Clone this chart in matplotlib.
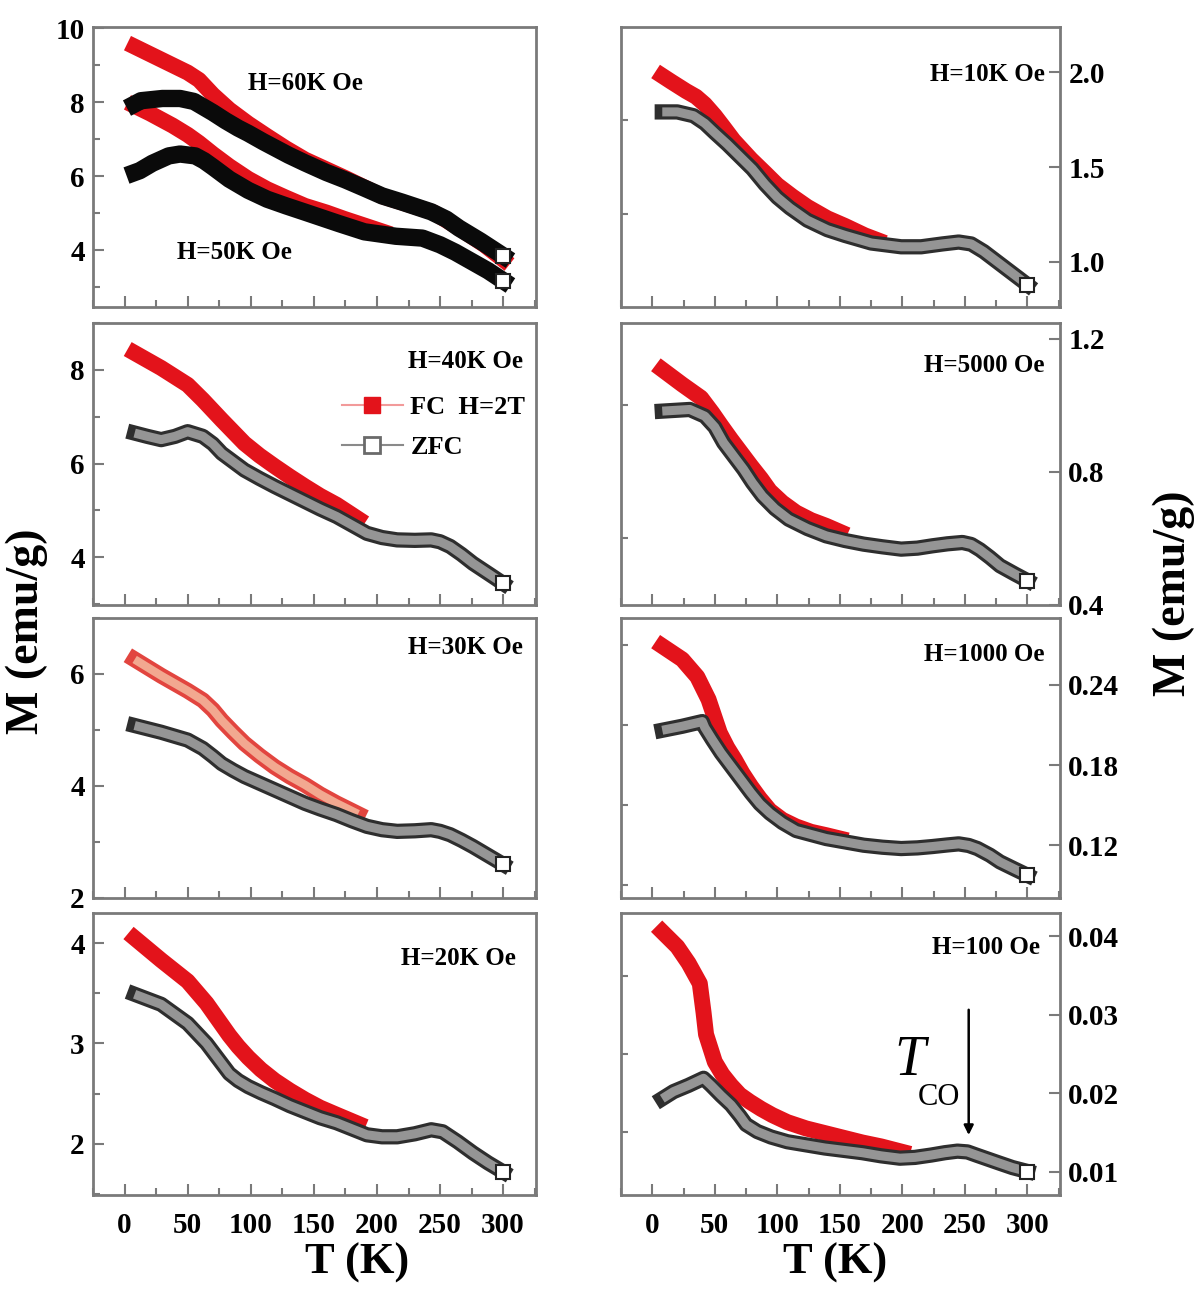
import matplotlib
matplotlib.use("Agg")
import matplotlib.pyplot as plt
from matplotlib.lines import Line2D
from matplotlib.ticker import MultipleLocator

plt.rcParams['font.family'] = ['Liberation Serif', 'DejaVu Serif']
plt.rcParams['font.weight'] = 'bold'

# ---------------- data ----------------
# H = 60K Oe / 50K Oe
T60_fc = [8, 20, 38, 50, 59, 70, 83, 98, 113, 128, 143, 175, 205, 245, 265, 285, 300]
M60_fc = [9.5, 9.3, 9.0, 8.8, 8.6, 8.2, 7.8, 7.42, 7.08, 6.75, 6.45, 5.95, 5.45, 5.02, 4.6, 4.15, 3.75]
T60_zfc = [8, 13, 30, 44, 55, 62, 70, 80, 90, 98, 110, 120, 130, 143, 160, 175, 190, 204, 220, 243, 255, 265, 282, 300]
M60_zfc = [7.95, 8.04, 8.1, 8.1, 8.02, 7.88, 7.72, 7.5, 7.3, 7.16, 6.93, 6.75, 6.57, 6.36, 6.1, 5.9, 5.68, 5.47, 5.3, 5.04, 4.84, 4.6, 4.25, 3.85]
T50_fc = [8, 20, 38, 50, 59, 70, 83, 98, 113, 128, 143, 160, 174, 190, 205]
M50_fc = [7.9, 7.7, 7.37, 7.12, 6.9, 6.6, 6.27, 5.93, 5.65, 5.42, 5.2, 5.02, 4.85, 4.67, 4.5]
T50_zfc = [8, 12, 22, 35, 44, 56, 63, 70, 83, 98, 113, 128, 143, 170, 190, 215, 236, 250, 262, 275, 288, 300]
M50_zfc = [6.1, 6.15, 6.35, 6.55, 6.6, 6.55, 6.42, 6.25, 5.92, 5.62, 5.38, 5.2, 5.03, 4.72, 4.5, 4.38, 4.33, 4.15, 3.95, 3.7, 3.45, 3.18]

# H = 40K Oe
T40_fc = [8, 29, 50, 62, 77, 95, 107, 119, 131, 143, 155, 168, 185]
M40_fc = [8.36, 8.04, 7.68, 7.36, 6.93, 6.43, 6.17, 5.94, 5.72, 5.51, 5.31, 5.12, 4.82]
T40_zfc = [8, 18, 29, 40, 50, 62, 70, 77, 86, 95, 107, 119, 131, 143, 155, 168, 180, 192, 204, 216, 230, 243, 250, 258, 267, 276, 290, 300]
M40_zfc = [6.65, 6.58, 6.51, 6.58, 6.68, 6.58, 6.42, 6.22, 6.04, 5.86, 5.68, 5.51, 5.35, 5.19, 5.03, 4.87, 4.69, 4.51, 4.42, 4.37, 4.36, 4.37, 4.33, 4.23, 4.06, 3.87, 3.62, 3.44]

# H = 30K Oe
T30_fc = [8, 29, 50, 62, 70, 77, 86, 95, 107, 119, 131, 143, 155, 168, 185]
M30_fc = [6.26, 5.97, 5.70, 5.53, 5.36, 5.17, 4.96, 4.76, 4.54, 4.34, 4.17, 4.02, 3.85, 3.69, 3.5]
T30_zfc = [8, 29, 50, 62, 70, 77, 86, 95, 107, 119, 131, 143, 155, 168, 180, 192, 204, 216, 230, 243, 250, 258, 267, 276, 288, 300]
M30_zfc = [5.08, 4.96, 4.82, 4.67, 4.53, 4.40, 4.28, 4.17, 4.05, 3.93, 3.81, 3.69, 3.59, 3.49, 3.38, 3.28, 3.22, 3.19, 3.2, 3.22, 3.19, 3.13, 3.03, 2.92, 2.76, 2.60]

# H = 20K Oe
T20_fc = [8, 29, 50, 65, 74, 83, 90, 98, 108, 119, 131, 143, 155, 168, 185]
M20_fc = [4.05, 3.83, 3.62, 3.40, 3.24, 3.08, 2.97, 2.86, 2.74, 2.63, 2.53, 2.44, 2.36, 2.29, 2.2]
T20_zfc = [8, 29, 50, 65, 74, 83, 90, 98, 108, 119, 131, 143, 155, 168, 180, 192, 204, 216, 230, 243, 252, 264, 276, 288, 300]
M20_zfc = [3.49, 3.39, 3.20, 3.0, 2.85, 2.70, 2.63, 2.57, 2.51, 2.45, 2.38, 2.32, 2.26, 2.21, 2.15, 2.09, 2.07, 2.07, 2.1, 2.14, 2.12, 2.02, 1.91, 1.81, 1.72]

# H = 10K Oe
T10_fc = [8, 15, 27, 35, 42, 50, 57, 65, 72, 79, 90, 100, 112, 124, 140, 154, 170, 180]
M10_fc = [1.98, 1.95, 1.9, 1.87, 1.83, 1.77, 1.71, 1.64, 1.59, 1.54, 1.47, 1.405, 1.345, 1.29, 1.23, 1.19, 1.14, 1.115]
T10_zfc = [8, 20, 33, 42, 50, 60, 70, 80, 90, 100, 110, 124, 140, 154, 175, 199, 215, 232, 245, 255, 265, 278, 290, 300]
M10_zfc = [1.79, 1.79, 1.77, 1.73, 1.68, 1.62, 1.555, 1.49, 1.41, 1.34, 1.285, 1.22, 1.17, 1.14, 1.10, 1.08, 1.08, 1.095, 1.105, 1.095, 1.055, 0.99, 0.93, 0.88]

# H = 5000 Oe
T5k_fc = [8, 24, 39, 48, 55, 63, 71, 79, 87, 94, 104, 115, 127, 139, 150]
M5k_fc = [1.108, 1.063, 1.023, 0.978, 0.94, 0.898, 0.858, 0.818, 0.78, 0.743, 0.708, 0.678, 0.655, 0.638, 0.62]
T5k_zfc = [8, 30, 42, 50, 57, 65, 73, 80, 88, 98, 109, 124, 139, 154, 169, 184, 199, 212, 224, 236, 248, 255, 262, 270, 278, 290, 300]
M5k_zfc = [0.983, 0.988, 0.968, 0.935, 0.888, 0.848, 0.808, 0.768, 0.728, 0.69, 0.658, 0.63, 0.608, 0.594, 0.583, 0.575, 0.568, 0.571, 0.578, 0.584, 0.588, 0.582, 0.566, 0.543, 0.518, 0.493, 0.473]

# H = 1000 Oe
T1k_fc = [8, 24, 36, 45, 54, 60, 66, 72, 79, 86, 94, 104, 115, 127, 139, 150]
M1k_fc = [0.269, 0.259, 0.246, 0.229, 0.204, 0.193, 0.184, 0.174, 0.164, 0.155, 0.146, 0.139, 0.134, 0.130, 0.1275, 0.125]
T1k_zfc = [8, 24, 40, 42, 48, 55, 63, 71, 79, 86, 94, 104, 115, 127, 139, 154, 169, 184, 199, 212, 224, 236, 245, 253, 260, 270, 278, 290, 300]
M1k_zfc = [0.206, 0.209, 0.2125, 0.208, 0.199, 0.189, 0.179, 0.169, 0.159, 0.151, 0.144, 0.137, 0.131, 0.128, 0.125, 0.1225, 0.120, 0.1185, 0.1175, 0.118, 0.119, 0.1202, 0.121, 0.1198, 0.1175, 0.1125, 0.1075, 0.102, 0.0975]

# H = 100 Oe
T100_fc = [8, 20, 29, 38, 41, 43, 50, 56, 63, 70, 78, 87, 96, 108, 123, 138, 153, 168, 183, 200]
M100_fc = [0.0406, 0.0387, 0.0366, 0.0340, 0.0303, 0.0275, 0.024, 0.0224, 0.021, 0.0198, 0.0189, 0.018, 0.0172, 0.0163, 0.0155, 0.0149, 0.0143, 0.0137, 0.0132, 0.0125]
T100_zfc = [8, 17, 29, 41, 47, 55, 63, 70, 75, 84, 95, 108, 123, 138, 153, 168, 183, 198, 210, 223, 234, 244, 252, 259, 268, 277, 288, 300]
M100_zfc = [0.0193, 0.0202, 0.021, 0.0219, 0.021, 0.0197, 0.0185, 0.0171, 0.016, 0.0151, 0.0144, 0.0138, 0.0134, 0.013, 0.0127, 0.0124, 0.012, 0.0117, 0.0118, 0.0121, 0.0124, 0.0126, 0.0125, 0.0121, 0.0116, 0.0111, 0.0105, 0.0100]

x_ticks = [0, 50, 100, 150, 200, 250, 300]
T_CO = 253

# ---------------- styling helpers ----------------
RED = '#e3131b'
SPINE = '#7a7a7a'
W, H = 1200, 1290

fig = plt.figure(figsize=(12, 12.9), dpi=100)

def px_axes(x0, y0, x1, y1):
    return fig.add_axes([x0 / W, 1 - y1 / H, (x1 - x0) / W, (y1 - y0) / H])

def fc(ax, T, M, color=RED, inner=None):
    ax.plot(T, M, color=color, lw=11.5, solid_capstyle='projecting', solid_joinstyle='round', zorder=2)
    if inner:
        ax.plot(T, M, color=inner, lw=6, solid_capstyle='butt', solid_joinstyle='round', zorder=2.1)

def zfc(ax, T, M, black=False):
    if black:
        ax.plot(T, M, color='#0a0a0a', lw=12.5, solid_capstyle='projecting', solid_joinstyle='round', zorder=3)
    else:
        ax.plot(T, M, color='#2e2e2e', lw=11, solid_capstyle='projecting', solid_joinstyle='round', zorder=3)
        ax.plot(T, M, color='#959595', lw=6.5, solid_capstyle='butt', solid_joinstyle='round', zorder=3.1)
    ax.plot(T[-1], M[-1], 's', mfc='white', mec='#222222', ms=9.5, mew=1.5, zorder=4)

def style(ax, ylim, major, minor, side, bottom_labels):
    ax.set_xlim(-25, 326)
    ax.set_ylim(*ylim)
    ax.set_xticks(x_ticks)
    ax.xaxis.set_minor_locator(MultipleLocator(25))
    ax.yaxis.set_major_locator(MultipleLocator(major))
    ax.yaxis.set_minor_locator(MultipleLocator(minor))
    for s in ax.spines.values():
        s.set_color(SPINE)
        s.set_linewidth(2)
    ax.tick_params(axis='both', which='both', direction='in', colors=SPINE,
                   labelcolor='black', width=1.5)
    ax.tick_params(which='major', length=8)
    ax.tick_params(which='minor', length=5)
    ax.tick_params(axis='x', top=False, labelbottom=bottom_labels, labelsize=21, pad=12)
    if side == 'left':
        ax.tick_params(axis='y', left=True, right=False, labelleft=True, labelright=False,
                       labelsize=21, pad=6)
    else:
        ax.tick_params(axis='y', left=False, right=True, labelleft=False, labelright=True,
                       labelsize=21, pad=6)
    for lab in ax.get_xticklabels() + ax.get_yticklabels():
        lab.set_fontweight('bold')

LX0, LX1 = 93, 536
RX0, RX1 = 621, 1060
rows = [(27, 307), (323, 605), (618, 898), (913, 1195)]

# ---- left column ----
ax = px_axes(LX0, rows[0][0], LX1, rows[0][1])
fc(ax, T60_fc, M60_fc)
zfc(ax, T60_zfc, M60_zfc, black=True)
fc(ax, T50_fc, M50_fc)
zfc(ax, T50_zfc, M50_zfc, black=True)
style(ax, (2.47, 10.03), 2, 1, 'left', False)
ax.set_yticks([4, 6, 8, 10])
ax.text(0.48, 0.80, 'H=60K Oe', transform=ax.transAxes, ha='center', va='center', fontsize=18, fontweight='bold')
ax.text(0.32, 0.195, 'H=50K Oe', transform=ax.transAxes, ha='center', va='center', fontsize=18, fontweight='bold')

ax = px_axes(LX0, rows[1][0], LX1, rows[1][1])
fc(ax, T40_fc, M40_fc)
zfc(ax, T40_zfc, M40_zfc)
style(ax, (2.98, 9.0), 2, 1, 'left', False)
ax.set_yticks([4, 6, 8])
ax.text(0.97, 0.862, 'H=40K Oe', transform=ax.transAxes, ha='right', va='center', fontsize=18, fontweight='bold')
handles = [Line2D([], [], color='#f29a9a', lw=1.5, marker='s', ms=12, mfc=RED, mec=RED),
           Line2D([], [], color='#8a8a8a', lw=1.5, marker='s', ms=11, mfc='white', mec='#6a6a6a', mew=2)]
ax.legend(handles, ['FC  H=2T', 'ZFC'], loc='upper right', bbox_to_anchor=(1.0, 0.78),
          frameon=False, handlelength=2.3, handletextpad=0.3, labelspacing=0.62,
          borderaxespad=0.0, prop={'size': 19, 'weight': 'bold'})

ax = px_axes(LX0, rows[2][0], LX1, rows[2][1])
fc(ax, T30_fc, M30_fc, color='#e2453f', inner='#f2a890')
zfc(ax, T30_zfc, M30_zfc)
style(ax, (2.0, 7.0), 2, 1, 'left', False)
ax.set_yticks([2, 4, 6])
ax.text(0.97, 0.896, 'H=30K Oe', transform=ax.transAxes, ha='right', va='center', fontsize=18, fontweight='bold')

ax = px_axes(LX0, rows[3][0], LX1, rows[3][1])
fc(ax, T20_fc, M20_fc)
zfc(ax, T20_zfc, M20_zfc)
style(ax, (1.49, 4.30), 1, 0.5, 'left', True)
ax.set_yticks([2, 3, 4])
ax.text(0.955, 0.84, 'H=20K Oe', transform=ax.transAxes, ha='right', va='center', fontsize=18, fontweight='bold')

# ---- right column ----
ax = px_axes(RX0, rows[0][0], RX1, rows[0][1])
fc(ax, T10_fc, M10_fc)
zfc(ax, T10_zfc, M10_zfc)
style(ax, (0.763, 2.237), 0.5, 0.25, 'right', False)
ax.set_yticks([1.0, 1.5, 2.0])
ax.set_yticklabels(['1.0', '1.5', '2.0'], fontweight='bold')
ax.text(0.965, 0.83, 'H=10K Oe', transform=ax.transAxes, ha='right', va='center', fontsize=18, fontweight='bold')

ax = px_axes(RX0, rows[1][0], RX1, rows[1][1])
fc(ax, T5k_fc, M5k_fc)
zfc(ax, T5k_zfc, M5k_zfc)
style(ax, (0.4, 1.248), 0.4, 0.2, 'right', False)
ax.set_yticks([0.4, 0.8, 1.2])
ax.set_yticklabels(['0.4', '0.8', '1.2'], fontweight='bold')
ax.text(0.965, 0.85, 'H=5000 Oe', transform=ax.transAxes, ha='right', va='center', fontsize=18, fontweight='bold')

ax = px_axes(RX0, rows[2][0], RX1, rows[2][1])
fc(ax, T1k_fc, M1k_fc)
zfc(ax, T1k_zfc, M1k_zfc)
style(ax, (0.0805, 0.29), 0.06, 0.03, 'right', False)
ax.set_yticks([0.12, 0.18, 0.24])
ax.set_yticklabels(['0.12', '0.18', '0.24'], fontweight='bold')
ax.text(0.965, 0.87, 'H=1000 Oe', transform=ax.transAxes, ha='right', va='center', fontsize=18, fontweight='bold')

ax = px_axes(RX0, rows[3][0], RX1, rows[3][1])
fc(ax, T100_fc, M100_fc)
zfc(ax, T100_zfc, M100_zfc)
style(ax, (0.007, 0.043), 0.01, 0.005, 'right', True)
ax.set_yticks([0.01, 0.02, 0.03, 0.04])
ax.set_yticklabels(['0.01', '0.02', '0.03', '0.04'], fontweight='bold')
ax.text(0.955, 0.876, 'H=100 Oe', transform=ax.transAxes, ha='right', va='center', fontsize=18, fontweight='bold')
ax.annotate('', xy=(T_CO, 0.0143), xytext=(T_CO, 0.0310),
            arrowprops=dict(arrowstyle='-|>', color='black', lw=1.8, mutation_scale=14))
ax.text(206, 0.0241, 'T', fontsize=40, fontstyle='italic', fontweight='normal', ha='center', va='center')
ax.text(229, 0.0194, 'CO', fontsize=22, fontweight='normal', ha='center', va='center')

# ---- axis titles ----
fig.text(0.2975, 0.021, 'T (K)', ha='center', va='center', fontsize=32, fontweight='bold')
fig.text(0.696, 0.021, 'T (K)', ha='center', va='center', fontsize=32, fontweight='bold')
fig.text(0.022, 0.511, 'M (emu/g)', rotation=90, ha='center', va='center', fontsize=33, fontweight='bold')
fig.text(0.978, 0.540, 'M (emu/g)', rotation=90, ha='center', va='center', fontsize=33, fontweight='bold')

fig.savefig('out.png', dpi=100, facecolor='white')
